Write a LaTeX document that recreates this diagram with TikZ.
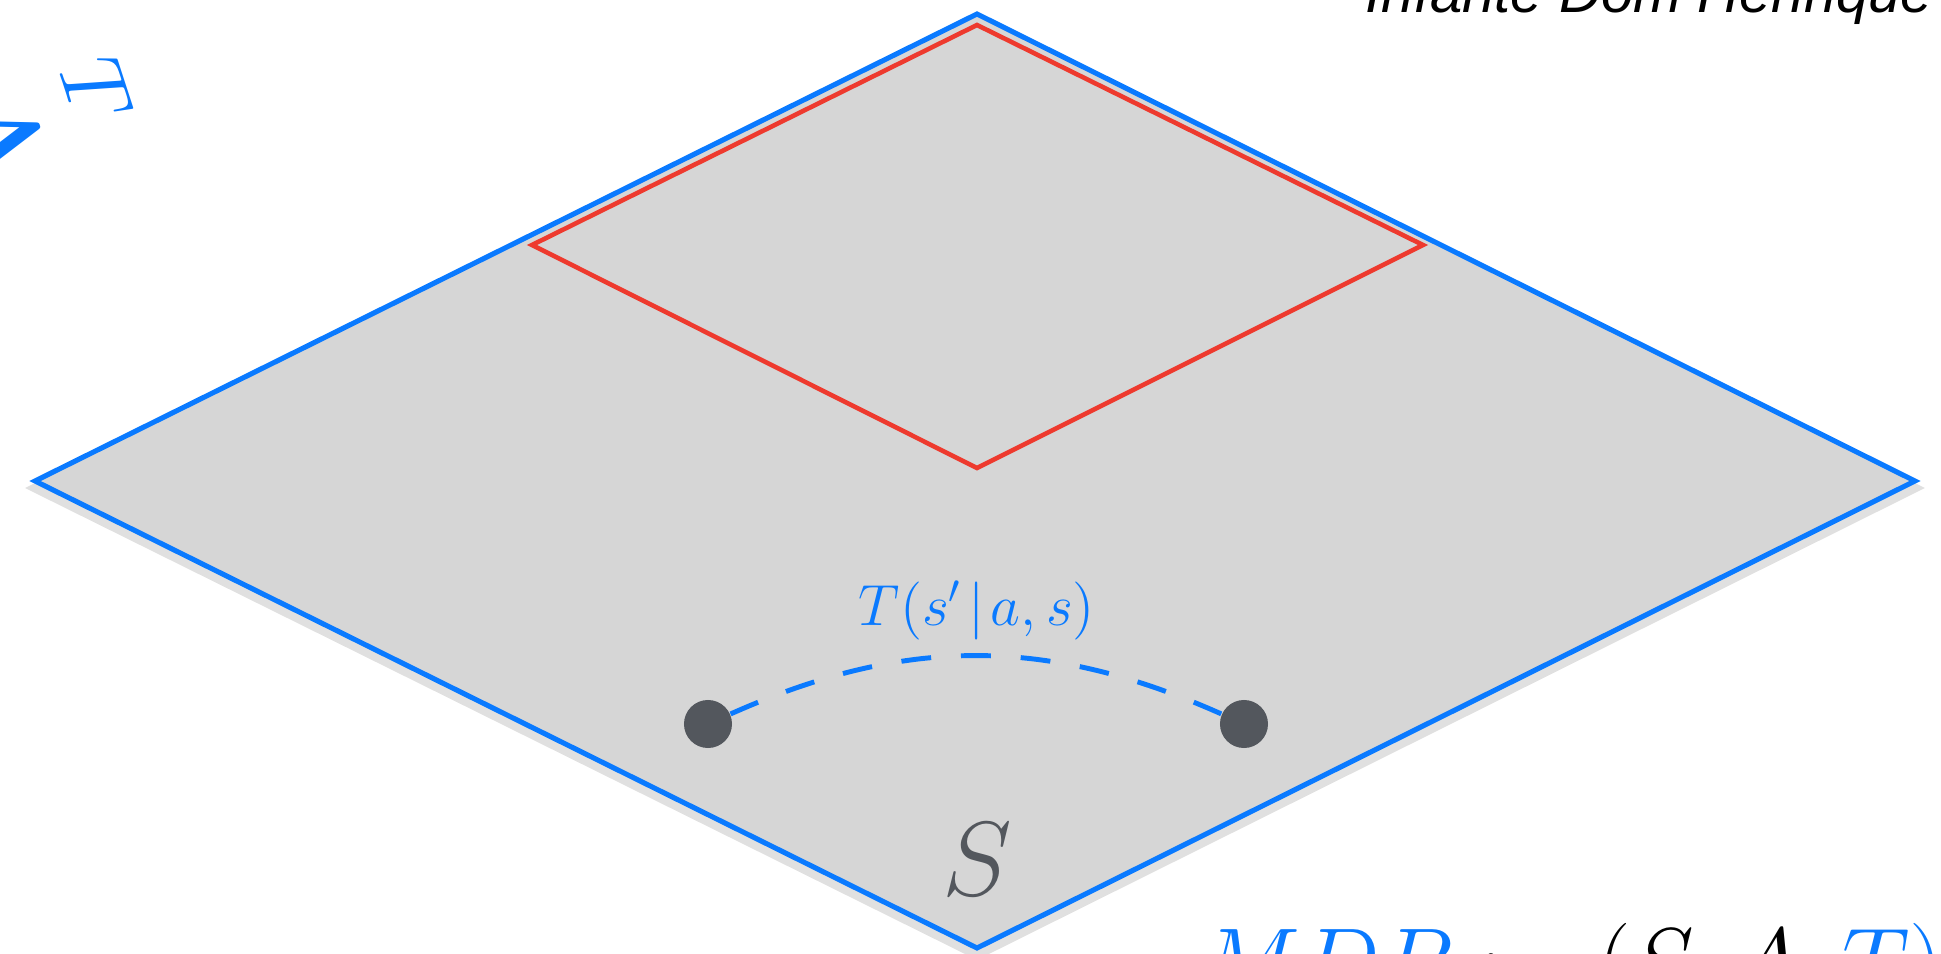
\RequirePackage{fix-cm}
\documentclass[tikz,border=0pt]{standalone}
\usepackage{amsmath}
\usepackage{fontspec}
\newfontfamily\slidefont{Liberation Sans}

\definecolor{planeblue}{RGB}{10,122,255}
\definecolor{subsetred}{RGB}{238,58,46}
\definecolor{planegray}{RGB}{214,214,214}
\definecolor{stategray}{RGB}{83,87,93}

\tikzset{
  plane/.style={draw=planeblue, line width=1.45pt, fill=planegray, line join=miter},
  planeshadow/.style={draw=black, opacity=0.12, line width=2.5pt, line join=miter},
  subset/.style={draw=subsetred, line width=1.3pt, line join=miter},
  statedot/.style={circle, fill=stategray, minimum size=0.48cm, inner sep=0pt},
  transition/.style={draw=planeblue, line width=1.4pt, dash pattern=on 8.5pt off 8.5pt},
}

\begin{document}
\begin{tikzpicture}[x=0.01cm, y=-0.01cm]
  \useasboundingbox (0,0) rectangle (1941,954);
  \clip (0,0) rectangle (1941,954);

  % ====================================================
  % STATE PLANE S
  % ====================================================
  \coordinate (sTop) at (977,14);
  \coordinate (sRight) at (1915,481);
  \coordinate (sBot) at (977,948);
  \coordinate (sLeft) at (35,481);

  % soft edge below the plane
  \draw[planeshadow] ([yshift=-2pt]sTop) -- ([yshift=-2pt]sRight)
    -- ([yshift=-2pt]sBot) -- ([yshift=-2pt]sLeft) -- cycle;
  \draw[plane] (sTop) -- (sRight) -- (sBot) -- (sLeft) -- cycle;

  % red sub-region
  \coordinate (rTop) at (977,25);
  \coordinate (rRight) at (1423,245);
  \coordinate (rBot) at (977,468);
  \coordinate (rLeft) at (532,245);
  \draw[subset] (rTop) -- (rRight) -- (rBot) -- (rLeft) -- cycle;

  % ====================================================
  % TRANSITION BETWEEN TWO STATES
  % ====================================================
  \node[statedot] (sFrom) at (708,724) {};
  \node[statedot] (sTo) at (1244,724) {};
  \draw[transition] (sFrom) to[bend left=24] (sTo);

  \node[text=planeblue, font=\fontsize{16.5}{20}\selectfont, anchor=base] (tLabel)
    at (977,625) {$T(s'\mkern2mu|\mkern2mu a,s)$};
  \node[text=stategray, font=\fontsize{30}{36}\selectfont, anchor=base] (sLabel)
    at (977,895) {$S$};

  % ====================================================
  % TEXT AT THE EDGES
  % ====================================================
  \node[font=\slidefont\itshape\fontsize{16.5}{20}\selectfont, anchor=base west, inner sep=0pt] (venue)
    at (1365,12) {Infante Dom Henrique};

  \node[font=\fontsize{27}{32}\selectfont, anchor=base west, inner sep=0pt] (mdpTuple)
    at (1200,994) {$\color{planeblue}MDP\color{black}:=(S,A,\color{planeblue}T)$};

  % rotated fragment, top left
  \node[text=planeblue, font=\fontsize{25}{30}\selectfont, rotate=-72, inner sep=1pt] (cornerT)
    at (97,90) {$T$};
  \node[text=planeblue, font=\fontsize{28}{32}\selectfont, rotate=-72, inner sep=1pt] (cornerA)
    at (8,136) {$\mathbf{A}$};
\end{tikzpicture}
\end{document}
